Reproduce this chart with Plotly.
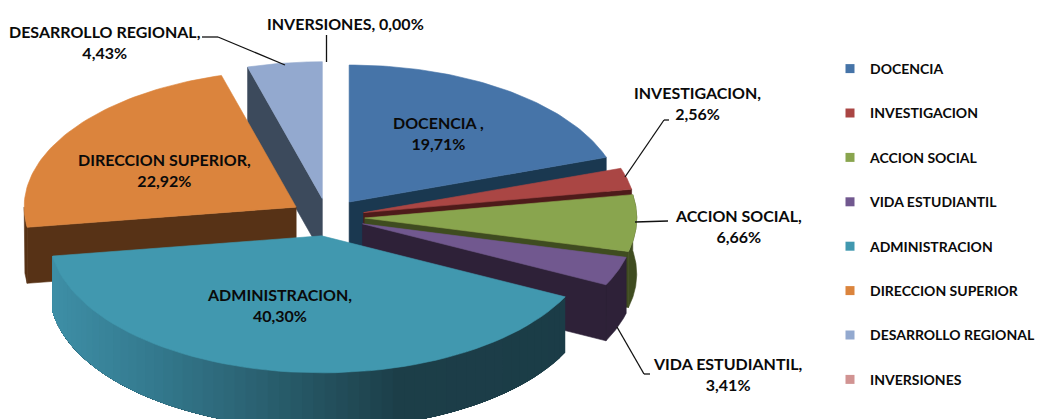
import math
import plotly.graph_objects as go

categories = ["DOCENCIA", "INVESTIGACION", "ACCION SOCIAL", "VIDA ESTUDIANTIL",
              "ADMINISTRACION", "DIRECCION SUPERIOR", "DESARROLLO REGIONAL", "INVERSIONES"]
values = [19.71, 2.56, 6.66, 3.41, 40.30, 22.92, 4.43, 0.00]
top_colors = ["#4674A8", "#AA4644", "#89A54E", "#71588F", "#4198AF", "#DB843D", "#93A9CF", "#D19392"]
face_colors = ["#1A3850", "#4E1B1A", "#3F4C20", "#2E2138", "#1B3C47", "#573216", "#3C4A5C", "#6E4B4A"]

# Projection of the exploded pie
CX, CY, RX, RY, DEPTH, EXPLODE = 327.5, 217.3, 272.0, 137.0, 56.0, 0.137
FONT = "Lato"
total = sum(values)

fig = go.Figure()


def poly(xs, ys, color, lw=0.6):
    fig.add_trace(go.Scatter(x=xs, y=ys, mode="lines", fill="toself", fillcolor=color,
                             line=dict(color=color, width=lw), hoverinfo="skip",
                             showlegend=False))


def arc(tip, a0, a1, dy=0.0, n=60):
    pts = [a0 + (a1 - a0) * i / n for i in range(n + 1)]
    return ([tip[0] + RX * math.sin(p) for p in pts],
            [tip[1] - RY * math.cos(p) + dy for p in pts])


angles = []
acc = 0.0
for v in values:
    a0 = acc / total * 2 * math.pi
    acc += v
    a1 = acc / total * 2 * math.pi
    mid = (a0 + a1) / 2
    tip = (CX + EXPLODE * RX * math.sin(mid), CY - EXPLODE * RY * math.cos(mid))
    angles.append((a0, a1, tip))


def edge(tip, a, color):
    ex, ey = tip[0] + RX * math.sin(a), tip[1] - RY * math.cos(a)
    poly([tip[0], ex, ex, tip[0], tip[0]],
         [tip[1], ey, ey + DEPTH, tip[1] + DEPTH, tip[1]], color)


def wall(tip, a0, a1, color, lw=0.6):
    x0, y0 = arc(tip, a0, a1)
    x1, y1 = arc(tip, a0, a1, DEPTH)
    poly(x0 + x1[::-1] + [x0[0]], y0 + y1[::-1] + [y0[0]], color, lw)


def top(i):
    a0, a1, tip = angles[i]
    xs, ys = arc(tip, a0, a1)
    poly([tip[0]] + xs + [tip[0]], [tip[1]] + ys + [tip[1]], top_colors[i])


GRAD = [(50, (62, 143, 167)), (150, (52, 122, 143)), (300, (38, 87, 101)),
        (400, (28, 62, 72)), (600, (27, 60, 71))]


def grad(x):
    for (p0, c0), (p1, c1) in zip(GRAD, GRAD[1:]):
        if x <= p1:
            t = max(0.0, (x - p0) / (p1 - p0))
            return "rgb(%d,%d,%d)" % tuple(round(u + (w - u) * t) for u, w in zip(c0, c1))
    return "rgb(27,60,71)"


# back slices
a0, a1, tip = angles[6]
edge(tip, a0, face_colors[6]); top(6)
a0, a1, tip = angles[0]
edge(tip, a1, face_colors[0]); top(0)
a0, a1, tip = angles[5]
wall(tip, a0, 3 * math.pi / 2, face_colors[5])
edge(tip, a0, face_colors[5]); top(5)
a0, a1, tip = angles[1]
edge(tip, a1, face_colors[1]); top(1)
a0, a1, tip = angles[2]
wall(tip, a0, a1, face_colors[2]); edge(tip, a1, face_colors[2]); top(2)
a0, a1, tip = angles[3]
wall(tip, a0, a1, face_colors[3]); edge(tip, a1, face_colors[3]); top(3)
# front slice: each strip runs to the end of the wall, the next one paints over it
a0, a1, tip = angles[4]
STRIPS = 60
for k in range(STRIPS):
    b0 = a0 + (a1 - a0) * k / STRIPS
    b1 = a0 + (a1 - a0) * (k + 1) / STRIPS
    wall(tip, b0, a1, grad(tip[0] + RX * math.sin((b0 + b1) / 2)), lw=0)
top(4)

# native legend
for name, color in zip(categories, top_colors):
    fig.add_trace(go.Scatter(x=[None], y=[None], mode="markers", name=name, legendgroup=name,
                             marker=dict(symbol="square", size=9, color=color)))


def label(i, sep=",<br>"):
    return categories[i] + sep + f"{values[i]:.2f}%".replace(".", ",")


annos = [
    (label(0, " ,<br>"), 438, 133),
    (label(1), 697, 103),
    (label(2), 738, 226),
    (label(3), 728, 374),
    (label(4), 279, 305),
    (label(5), 164, 170),
    (label(6), 105, 42),
    (label(7, ", "), 345, 23),
]
annotations = [dict(x=x, y=y, xref="x", yref="y", text=f"<b>{t}</b>", showarrow=False,
                    align="center", font=dict(family=FONT, size=16, color="#0A0A0A"))
               for t, x, y in annos]

leaders = [
    [(625, 177), (664, 120), (669, 120)],
    [(635, 222), (668, 221)],
    [(617, 327), (644, 374), (650, 374)],
    [(285, 65), (218, 37), (202, 37)],
    [(326.5, 62), (326.5, 35)],
]
shapes = []
for pts in leaders:
    for (x0, y0), (x1, y1) in zip(pts, pts[1:]):
        shapes.append(dict(type="line", xref="x", yref="y", x0=x0, y0=y0, x1=x1, y1=y1,
                           line=dict(color="#111111", width=1.3), layer="above"))

fig.update_layout(
    width=1041, height=419, margin=dict(l=0, r=0, t=0, b=0),
    paper_bgcolor="white", plot_bgcolor="white",
    xaxis=dict(range=[0, 1041], visible=False, fixedrange=True),
    yaxis=dict(range=[419, 0], visible=False, fixedrange=True),
    annotations=annotations, shapes=shapes,
    legend=dict(x=830 / 1041, y=1 - 53 / 419, xanchor="left", yanchor="top",
                font=dict(family=FONT, size=14, color="#0A0A0A", weight="bold"),
                tracegroupgap=23.2, itemclick=False, itemdoubleclick=False,
                bgcolor="rgba(0,0,0,0)"),
    hovermode=False,
)
fig.write_html("out.html", config=dict(displayModeBar=False),
               post_script="document.body.style.margin='0';")
